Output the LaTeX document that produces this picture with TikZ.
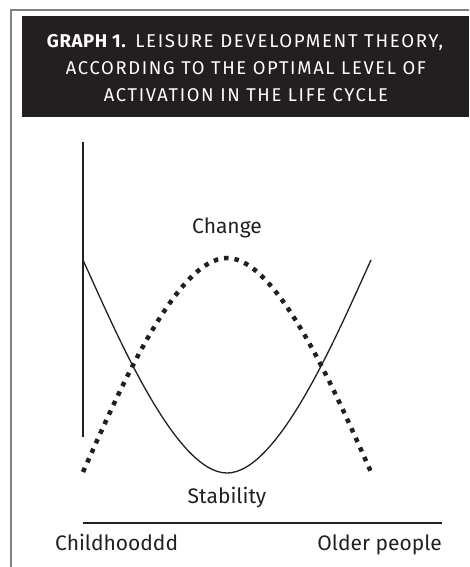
\documentclass[tikz,border=0pt]{standalone}
\usepackage{graphicx}
\usepackage{fontspec}
\setmainfont{Fira Sans}
\definecolor{ink}{HTML}{231F20}
\definecolor{framegray}{HTML}{808080}
\begin{document}
\begin{tikzpicture}[x=1pt,y=-1pt,
  frameline/.style={draw=framegray,line width=1.5pt},
  axisline/.style={draw=ink,line width=1.3pt},
  solidcurve/.style={draw=ink,line width=1.3pt},
  dotcurve/.style={draw=ink,line width=4.5pt,dash pattern=on 4.5pt off 6pt},
  titletext/.style={text=white,inner sep=0pt,anchor=base,
    font=\fontsize{18.5}{22}\selectfont\addfontfeatures{LetterSpace=9}},
  lbl/.style={text=ink,inner sep=0pt,font=\fontsize{21}{24}\selectfont}]
\useasboundingbox (0,0) rectangle (469,567);
\fill[ink] (22,16) rectangle (469,117);
\draw[frameline] (469,10) -- (11,10) -- (11,567);
\node[titletext] (title1) at (245,47.5)
  {\resizebox{396pt}{\height}{\textbf{\addfontfeatures{LetterSpace=3}GRAPH 1.} LEISURE DEVELOPMENT THEORY,}};
\node[titletext] (title2) at (246,75)
  {\resizebox{360pt}{\height}{ACCORDING TO THE OPTIMAL LEVEL OF}};
\node[titletext] (title3) at (246,101.5)
  {\resizebox{284pt}{\height}{ACTIVATION IN THE LIFE CYCLE}};
% axes
\coordinate (ytop) at (83,142);
\coordinate (ybot) at (83,437);
\coordinate (xl) at (83,523);
\coordinate (xr) at (442,523);
\draw[axisline] (ytop) -- (ybot);
\draw[axisline] (xl) -- (xr);
% curves
\coordinate (s0) at (83,260);
\coordinate (smin) at (227,473);
\coordinate (s1) at (371,260);
\draw[solidcurve] (s0) .. controls (115,330) and (175,473) .. (smin)
  .. controls (279,473) and (339,330) .. (s1);
\coordinate (d0) at (83,472);
\coordinate (dmax) at (227,258);
\coordinate (d1) at (371,472);
\draw[dotcurve] (d0) .. controls (115,401) and (175,258) .. (dmax)
  .. controls (279,258) and (339,401) .. (d1);
% labels
\node[lbl,anchor=base] (change) at (227,233) {Change};
\node[lbl,anchor=base] (stab) at (227,503) {Stability};
\node[lbl,anchor=base west] (child) at (55,550) {Childhooddd};
\node[lbl,anchor=base east] (older) at (442,550) {Older people};
\end{tikzpicture}
\end{document}
